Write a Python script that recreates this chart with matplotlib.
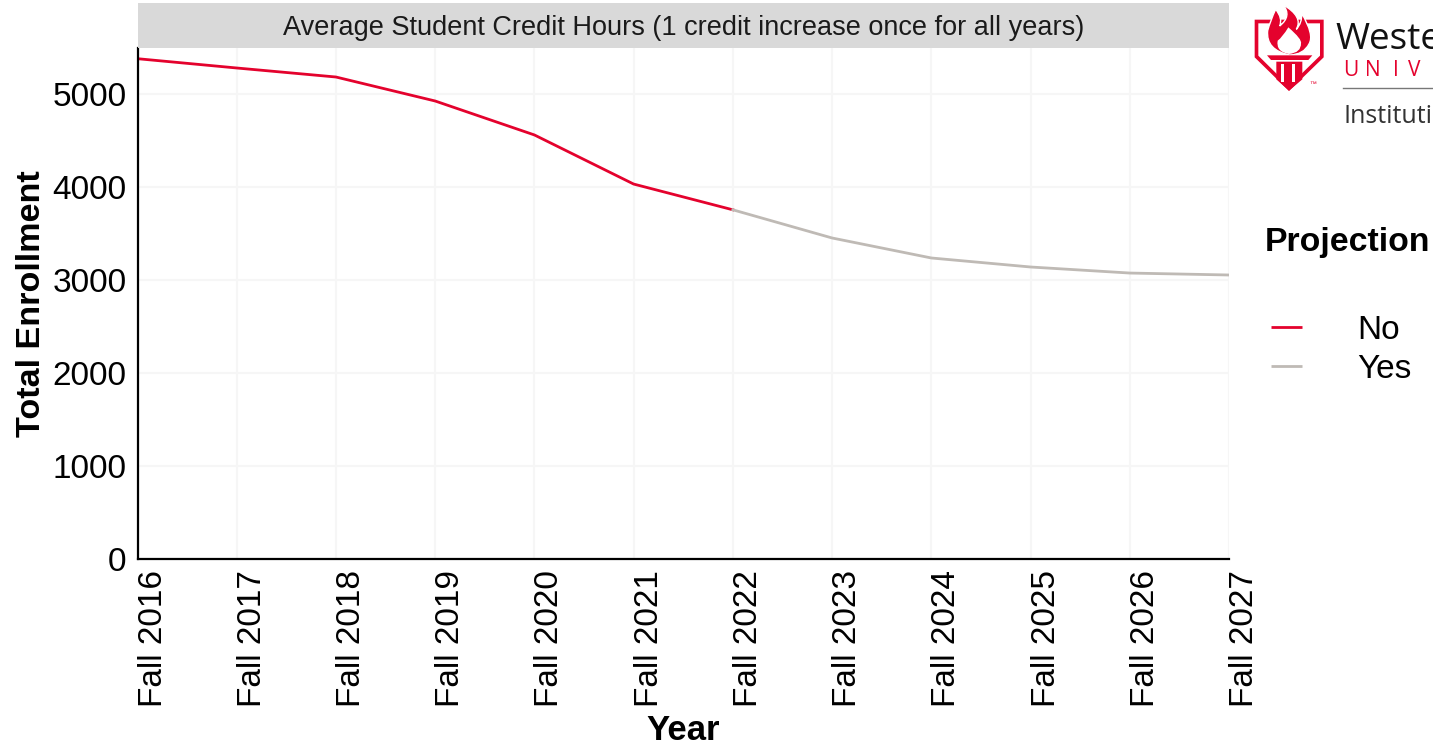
"""
Total enrollment by year, with the projected years shown in grey
"""

import matplotlib
matplotlib.use('Agg')
import matplotlib.pyplot as plt
from matplotlib.lines import Line2D
from matplotlib.patches import PathPatch, Polygon, Rectangle
from matplotlib.path import Path

plt.rcParams.update({
    'font.family': ['Liberation Sans', 'DejaVu Sans'],
    'font.size': 24,
})

RED = '#e4022d'
GREY = '#bfbab5'
GRID = '#f6f6f6'

years = ['Fall 2016', 'Fall 2017', 'Fall 2018', 'Fall 2019', 'Fall 2020', 'Fall 2021',
         'Fall 2022', 'Fall 2023', 'Fall 2024', 'Fall 2025', 'Fall 2026', 'Fall 2027']
actual_enrollment = [5380, 5280, 5183, 4925, 4560, 4032, 3755]
projected_enrollment = [3755, 3452, 3237, 3140, 3075, 3054]
y_ticks = [0, 1000, 2000, 3000, 4000, 5000]
strip_title = 'Average Student Credit Hours (1 credit increase once for all years)'


def smooth_patch(ax, start, curves, color, halo=0):
    """Closed filled shape made of quadratic curve segments"""
    verts = [start]
    codes = [Path.MOVETO]
    for ctrl, end in curves:
        verts += [ctrl, end]
        codes += [Path.CURVE3, Path.CURVE3]
    verts.append(start)
    codes.append(Path.CLOSEPOLY)
    ax.add_patch(PathPatch(Path(verts, codes), facecolor=color, edgecolor='white', linewidth=halo))


def draw_logo(fig):
    """Shield, torch and wordmark in the top right corner"""
    ax = fig.add_axes([1233 / 1433, 1 - 135 / 747, 200 / 1433, 135 / 747])
    ax.set_xlim(0, 600)
    ax.set_ylim(405, 0)
    ax.axis('off')

    # shield
    ax.add_patch(Polygon([(65, 59), (272, 59), (272, 172), (168, 273), (65, 172)],
                         facecolor=RED, edgecolor='none'))
    ax.add_patch(Polygon([(76, 70), (261, 70), (261, 167), (168, 258), (76, 167)],
                         facecolor='white', edgecolor='none'))

    # flame with its white core
    smooth_patch(ax, (170, 165), [((98, 150), (104, 92)),
                                  ((112, 62), (128, 28)),
                                  ((150, 55), (140, 78)),
                                  ((178, 48), (150, 14)),
                                  ((212, 50), (190, 88)),
                                  ((208, 68), (206, 40)),
                                  ((245, 105), (228, 132)),
                                  ((212, 164), (170, 165))], RED, halo=1)
    smooth_patch(ax, (168, 162), [((128, 155), (134, 122)),
                                  ((148, 112), (166, 82)),
                                  ((208, 118), (204, 130)),
                                  ((205, 158), (168, 162))], 'white')

    # torch column
    ax.add_patch(Polygon([(102, 166), (238, 166), (226, 180), (114, 180)],
                         facecolor=RED, edgecolor='none'))
    ax.add_patch(Polygon([(130, 185), (208, 185), (208, 238), (168, 272), (130, 238)],
                         facecolor=RED, edgecolor='none'))
    for left in (145, 178):
        ax.add_patch(Rectangle((left, 192), 8, 55, facecolor='white', edgecolor='none'))

    ax.text(228, 255, '™', fontsize=5, color=RED, ha='left', va='center')

    # wordmark fragments up to the right edge of the figure
    ax.text(308, 146, 'Weste', fontsize=26.6, color='#111111', family='Open Sans',
            ha='left', va='baseline')
    for left, letter in zip((330, 395, 481, 525), 'UNIV'):
        ax.text(left, 228, letter, fontsize=15, color=RED, family='Open Sans',
                ha='left', va='baseline')
    ax.plot([330, 600], [264, 264], color='#777777', linewidth=1)
    ax.text(330, 370, 'Instituti', fontsize=18, color='#333333', family='Open Sans',
            ha='left', va='baseline')


def generate_plot():
    fig = plt.figure(figsize=(14.33, 7.47), dpi=100)
    ax = fig.add_axes([137.5 / 1433, 1 - 559 / 747, (1229 - 137.5) / 1433, (559 - 48) / 747])

    x_actual = list(range(len(actual_enrollment)))
    x_projected = list(range(len(actual_enrollment) - 1, len(years)))

    ax.plot(x_actual, actual_enrollment, color=RED, linewidth=2.0, zorder=3)
    ax.plot(x_projected, projected_enrollment, color=GREY, linewidth=2.0, zorder=3)

    ax.set_xlim(0, len(years) - 1)
    ax.set_ylim(0, 5495)
    ax.set_yticks(y_ticks)
    ax.set_xticks(range(len(years)))
    ax.set_xticklabels(years, rotation=90, ha='left', va='top')
    ax.tick_params(axis='both', length=0, labelsize=24, labelcolor='black')
    ax.tick_params(axis='x', pad=8)
    ax.tick_params(axis='y', pad=8)

    ax.grid(True, color=GRID, linewidth=1.6)
    ax.set_axisbelow(True)
    for side in ('top', 'right'):
        ax.spines[side].set_visible(False)
    for side in ('left', 'bottom'):
        ax.spines[side].set_linewidth(1.6)
        ax.spines[side].set_zorder(4)

    ax.set_xlabel('Year', fontsize=25, fontweight='bold')
    ax.xaxis.set_label_coords(0.5, -0.303)
    ax.set_ylabel('Total Enrollment', fontsize=24.6, fontweight='bold')
    ax.yaxis.set_label_coords(-0.083, 0.5)

    # facet style strip above the panel
    strip = fig.add_axes([137.5 / 1433, 1 - 48 / 747, (1229 - 137.5) / 1433, 45 / 747])
    strip.set_facecolor('#d9d9d9')
    strip.set_xticks([])
    strip.set_yticks([])
    for spine in strip.spines.values():
        spine.set_visible(False)
    strip.text(0.5, 0.44, strip_title, fontsize=19.5, color='#1a1a1a',
               ha='center', va='center', transform=strip.transAxes)

    handles = [Line2D([], [], color=RED, linewidth=2.0, solid_capstyle='butt'),
               Line2D([], [], color=GREY, linewidth=2.0, solid_capstyle='butt')]
    legend = fig.legend(handles, ['No', 'Yes'], title='Projection', frameon=False,
                        loc='upper left', bbox_to_anchor=(1265 / 1433, 1 - 227 / 747),
                        borderpad=0, borderaxespad=0, handlelength=0.93,
                        handletextpad=1.65, labelspacing=0.25, fontsize=24,
                        title_fontproperties={'size': 24.4, 'weight': 'bold'},
                        alignment='left')
    # wider gap under the title and a small indent for the entries
    legend._legend_box.sep = 36.5
    legend._legend_handle_box.pad = 4.3

    draw_logo(fig)

    fig.savefig('out.png', dpi=100)
    plt.close(fig)


if __name__ == "__main__":
    generate_plot()
